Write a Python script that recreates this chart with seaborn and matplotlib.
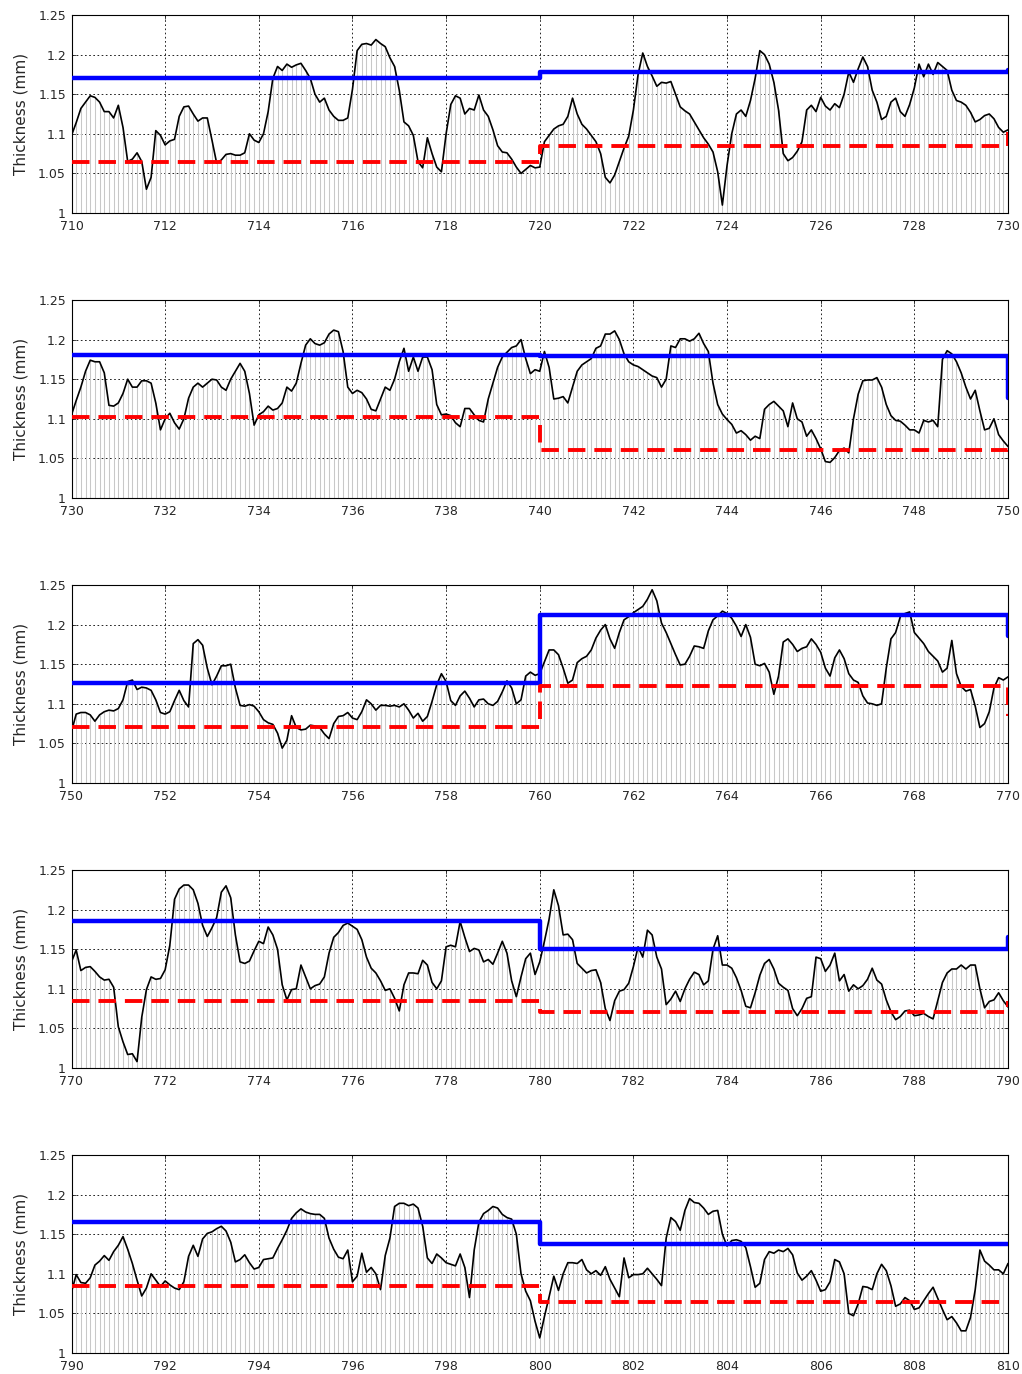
import numpy as np
import pandas as pd
import matplotlib
matplotlib.use("Agg")
import matplotlib.pyplot as plt
from matplotlib.ticker import FuncFormatter, MultipleLocator
import seaborn as sns

# ── data: thickness sampled every 0.1 along the strip ─────────
thk_710 = [1.098, 1.114, 1.132, 1.140, 1.148, 1.146, 1.140, 1.128, 1.128, 1.120,
           1.136, 1.108, 1.065, 1.068, 1.076, 1.065, 1.030, 1.045, 1.104, 1.098,
           1.086, 1.091, 1.093, 1.122, 1.134, 1.135, 1.125, 1.116, 1.120, 1.120,
           1.092, 1.063, 1.067, 1.074, 1.075, 1.073, 1.073, 1.076, 1.100, 1.092,
           1.089, 1.100, 1.128, 1.170, 1.185, 1.180, 1.188, 1.184, 1.187, 1.189,
           1.180, 1.170, 1.150, 1.140, 1.145, 1.130, 1.122, 1.117, 1.117, 1.120,
           1.156, 1.205, 1.213, 1.214, 1.212, 1.219, 1.214, 1.210, 1.196, 1.185,
           1.155, 1.115, 1.110, 1.098, 1.065, 1.057, 1.095, 1.075, 1.058, 1.052,
           1.100, 1.137, 1.148, 1.145, 1.125, 1.132, 1.130, 1.149, 1.130, 1.122,
           1.105, 1.085, 1.077, 1.076, 1.068, 1.058, 1.050, 1.055, 1.060, 1.057]
thk_720 = [1.058, 1.090, 1.098, 1.106, 1.110, 1.112, 1.122, 1.145, 1.125, 1.112,
           1.106, 1.098, 1.090, 1.075, 1.045, 1.038, 1.048, 1.065, 1.082, 1.097,
           1.130, 1.175, 1.202, 1.185, 1.173, 1.160, 1.165, 1.164, 1.166, 1.150,
           1.134, 1.129, 1.125, 1.115, 1.105, 1.095, 1.087, 1.077, 1.052, 1.010,
           1.060, 1.100, 1.125, 1.130, 1.122, 1.142, 1.170, 1.205, 1.200, 1.188,
           1.165, 1.130, 1.075, 1.066, 1.070, 1.078, 1.090, 1.130, 1.136, 1.128,
           1.146, 1.135, 1.130, 1.138, 1.133, 1.150, 1.178, 1.165, 1.182, 1.197,
           1.185, 1.155, 1.140, 1.118, 1.122, 1.140, 1.145, 1.128, 1.122, 1.137,
           1.158, 1.188, 1.172, 1.188, 1.175, 1.190, 1.185, 1.180, 1.155, 1.142,
           1.140, 1.136, 1.127, 1.115, 1.118, 1.123, 1.125, 1.119, 1.108, 1.102]
thk_730 = [1.105, 1.123, 1.140, 1.160, 1.174, 1.172, 1.172, 1.158, 1.117, 1.116,
           1.120, 1.132, 1.150, 1.140, 1.140, 1.148, 1.148, 1.145, 1.120, 1.086,
           1.100, 1.107, 1.095, 1.087, 1.100, 1.126, 1.140, 1.145, 1.140, 1.145,
           1.150, 1.149, 1.140, 1.136, 1.150, 1.160, 1.170, 1.160, 1.132, 1.092,
           1.105, 1.109, 1.116, 1.111, 1.113, 1.120, 1.140, 1.135, 1.145, 1.170,
           1.193, 1.201, 1.195, 1.193, 1.196, 1.207, 1.212, 1.210, 1.185, 1.140,
           1.132, 1.136, 1.133, 1.125, 1.112, 1.110, 1.125, 1.140, 1.136, 1.150,
           1.172, 1.189, 1.160, 1.178, 1.160, 1.178, 1.178, 1.162, 1.118, 1.105,
           1.106, 1.104, 1.095, 1.090, 1.113, 1.113, 1.105, 1.098, 1.096, 1.125,
           1.145, 1.165, 1.178, 1.184, 1.190, 1.192, 1.200, 1.176, 1.157, 1.162]
thk_740 = [1.160, 1.185, 1.165, 1.125, 1.126, 1.128, 1.120, 1.140, 1.160, 1.168,
           1.172, 1.176, 1.189, 1.192, 1.207, 1.207, 1.211, 1.200, 1.182, 1.172,
           1.168, 1.166, 1.162, 1.158, 1.154, 1.152, 1.140, 1.150, 1.192, 1.190,
           1.201, 1.201, 1.198, 1.201, 1.208, 1.195, 1.185, 1.145, 1.118, 1.106,
           1.099, 1.093, 1.082, 1.085, 1.080, 1.073, 1.078, 1.075, 1.112, 1.118,
           1.122, 1.116, 1.110, 1.090, 1.120, 1.100, 1.096, 1.078, 1.086, 1.075,
           1.062, 1.046, 1.045, 1.051, 1.060, 1.063, 1.057, 1.100, 1.131, 1.148,
           1.149, 1.149, 1.152, 1.140, 1.118, 1.104, 1.098, 1.097, 1.092, 1.086,
           1.086, 1.082, 1.098, 1.096, 1.098, 1.090, 1.175, 1.186, 1.182, 1.172,
           1.158, 1.140, 1.125, 1.136, 1.110, 1.086, 1.088, 1.100, 1.080, 1.072]
thk_750 = [1.065, 1.087, 1.089, 1.089, 1.086, 1.078, 1.086, 1.090, 1.092, 1.091,
           1.094, 1.105, 1.128, 1.130, 1.118, 1.121, 1.120, 1.117, 1.105, 1.089,
           1.087, 1.090, 1.104, 1.117, 1.104, 1.096, 1.176, 1.181, 1.174, 1.145,
           1.124, 1.135, 1.148, 1.148, 1.150, 1.120, 1.098, 1.097, 1.099, 1.097,
           1.090, 1.080, 1.076, 1.074, 1.063, 1.044, 1.054, 1.085, 1.070, 1.067,
           1.068, 1.073, 1.072, 1.070, 1.062, 1.056, 1.075, 1.084, 1.085, 1.089,
           1.082, 1.080, 1.090, 1.105, 1.100, 1.092, 1.098, 1.098, 1.097, 1.098,
           1.096, 1.100, 1.092, 1.082, 1.088, 1.078, 1.084, 1.103, 1.124, 1.138,
           1.128, 1.104, 1.098, 1.110, 1.116, 1.107, 1.096, 1.105, 1.106, 1.100,
           1.098, 1.103, 1.115, 1.129, 1.120, 1.100, 1.105, 1.135, 1.140, 1.136]
thk_760 = [1.138, 1.153, 1.168, 1.168, 1.162, 1.145, 1.126, 1.130, 1.152, 1.157,
           1.160, 1.168, 1.183, 1.193, 1.200, 1.182, 1.170, 1.190, 1.206, 1.210,
           1.215, 1.219, 1.223, 1.232, 1.244, 1.230, 1.202, 1.190, 1.176, 1.162,
           1.149, 1.150, 1.160, 1.173, 1.172, 1.170, 1.192, 1.206, 1.211, 1.217,
           1.214, 1.208, 1.198, 1.185, 1.200, 1.184, 1.150, 1.148, 1.151, 1.140,
           1.112, 1.135, 1.178, 1.182, 1.175, 1.166, 1.170, 1.172, 1.182, 1.175,
           1.165, 1.145, 1.135, 1.158, 1.168, 1.157, 1.138, 1.130, 1.127, 1.110,
           1.101, 1.100, 1.098, 1.100, 1.145, 1.182, 1.190, 1.210, 1.214, 1.216,
           1.190, 1.183, 1.176, 1.166, 1.160, 1.154, 1.140, 1.145, 1.180, 1.138,
           1.122, 1.116, 1.118, 1.097, 1.070, 1.075, 1.090, 1.120, 1.133, 1.130]
thk_770 = [1.134, 1.149, 1.123, 1.127, 1.128, 1.122, 1.115, 1.111, 1.112, 1.102,
           1.052, 1.033, 1.017, 1.018, 1.008, 1.064, 1.099, 1.115, 1.112, 1.113,
           1.124, 1.155, 1.213, 1.226, 1.231, 1.231, 1.225, 1.208, 1.180, 1.166,
           1.177, 1.190, 1.222, 1.230, 1.215, 1.168, 1.134, 1.132, 1.135, 1.148,
           1.160, 1.157, 1.178, 1.168, 1.150, 1.105, 1.086, 1.099, 1.100, 1.130,
           1.115, 1.100, 1.104, 1.106, 1.115, 1.145, 1.165, 1.171, 1.180, 1.183,
           1.179, 1.175, 1.162, 1.140, 1.126, 1.120, 1.110, 1.098, 1.100, 1.088,
           1.072, 1.105, 1.120, 1.120, 1.119, 1.136, 1.130, 1.108, 1.100, 1.110,
           1.153, 1.155, 1.153, 1.185, 1.165, 1.147, 1.151, 1.149, 1.134, 1.137,
           1.131, 1.145, 1.160, 1.145, 1.110, 1.090, 1.115, 1.138, 1.145, 1.118]
thk_780 = [1.134, 1.160, 1.188, 1.225, 1.205, 1.168, 1.169, 1.162, 1.132, 1.126,
           1.120, 1.123, 1.124, 1.108, 1.075, 1.060, 1.085, 1.097, 1.099, 1.107,
           1.128, 1.153, 1.140, 1.174, 1.168, 1.140, 1.125, 1.080, 1.087, 1.097,
           1.084, 1.100, 1.112, 1.121, 1.118, 1.105, 1.110, 1.150, 1.167, 1.130,
           1.130, 1.126, 1.114, 1.098, 1.078, 1.076, 1.095, 1.117, 1.132, 1.137,
           1.125, 1.107, 1.102, 1.098, 1.075, 1.066, 1.075, 1.088, 1.090, 1.140,
           1.138, 1.122, 1.130, 1.145, 1.110, 1.118, 1.097, 1.105, 1.100, 1.104,
           1.112, 1.126, 1.111, 1.106, 1.086, 1.071, 1.061, 1.065, 1.072, 1.073,
           1.066, 1.067, 1.069, 1.065, 1.062, 1.085, 1.108, 1.120, 1.125, 1.125,
           1.130, 1.125, 1.130, 1.130, 1.100, 1.076, 1.084, 1.086, 1.095, 1.085]
thk_790 = [1.077, 1.099, 1.089, 1.088, 1.095, 1.111, 1.116, 1.123, 1.117, 1.128,
           1.136, 1.147, 1.131, 1.113, 1.092, 1.072, 1.082, 1.100, 1.092, 1.084,
           1.091, 1.086, 1.082, 1.080, 1.090, 1.122, 1.136, 1.122, 1.144, 1.151,
           1.153, 1.157, 1.160, 1.154, 1.140, 1.115, 1.118, 1.124, 1.114, 1.106,
           1.108, 1.118, 1.119, 1.120, 1.132, 1.143, 1.155, 1.170, 1.177, 1.182,
           1.178, 1.176, 1.175, 1.175, 1.170, 1.145, 1.131, 1.121, 1.119, 1.130,
           1.090, 1.097, 1.126, 1.102, 1.108, 1.100, 1.080, 1.123, 1.145, 1.185,
           1.189, 1.189, 1.186, 1.188, 1.183, 1.160, 1.120, 1.113, 1.125, 1.120,
           1.114, 1.112, 1.110, 1.125, 1.108, 1.070, 1.130, 1.165, 1.176, 1.180,
           1.185, 1.183, 1.175, 1.171, 1.169, 1.150, 1.100, 1.078, 1.066, 1.040]
thk_800 = [1.019, 1.046, 1.071, 1.097, 1.079, 1.100, 1.114, 1.114, 1.113, 1.118,
           1.105, 1.100, 1.104, 1.098, 1.109, 1.093, 1.082, 1.071, 1.120, 1.095,
           1.099, 1.099, 1.100, 1.107, 1.100, 1.093, 1.085, 1.145, 1.171, 1.166,
           1.155, 1.180, 1.195, 1.190, 1.189, 1.183, 1.175, 1.179, 1.180, 1.150,
           1.135, 1.142, 1.143, 1.141, 1.133, 1.109, 1.083, 1.088, 1.118, 1.128,
           1.126, 1.130, 1.128, 1.132, 1.124, 1.101, 1.092, 1.097, 1.104, 1.092,
           1.078, 1.080, 1.090, 1.118, 1.115, 1.100, 1.050, 1.047, 1.062, 1.084,
           1.083, 1.080, 1.100, 1.112, 1.104, 1.085, 1.059, 1.062, 1.070, 1.066,
           1.055, 1.057, 1.066, 1.075, 1.083, 1.069, 1.055, 1.042, 1.046, 1.038,
           1.028, 1.028, 1.045, 1.080, 1.130, 1.116, 1.111, 1.105, 1.105, 1.100,
           1.113]

# ── data: control limits per 10-unit block ─────────────────────
block_start = [710, 720, 730, 740, 750, 760, 770, 780, 790, 800, 810]
upper_lim   = [1.170, 1.178, 1.181, 1.179, 1.126, 1.212, 1.186, 1.150, 1.166, 1.138, 1.138]
lower_lim   = [1.064, 1.084, 1.102, 1.061, 1.071, 1.122, 1.085, 1.071, 1.084, 1.064, 1.064]

panel_start = [710, 730, 750, 770, 790]
y_ticks     = [1.0, 1.05, 1.1, 1.15, 1.2, 1.25]

# ── assemble ──────────────────────────────────────────────────
thickness = np.array(thk_710 + thk_720 + thk_730 + thk_740 + thk_750 +
                     thk_760 + thk_770 + thk_780 + thk_790 + thk_800)
position  = np.round(710 + 0.1 * np.arange(len(thickness)), 1)
df = pd.DataFrame({"position": position, "thickness": thickness})

lim = pd.DataFrame({"start": block_start, "upper": upper_lim, "lower": lower_lim})

sns.set_style("white")
plt.rcParams["font.family"] = ["DejaVu Sans"]

W, H = 1022, 1374
fig = plt.figure(figsize=(W / 100, H / 100), dpi=100)

for i, start in enumerate(panel_start):
    top_px = 15 + 285 * i
    ax = fig.add_axes([71.5 / W, 1 - (top_px + 198) / H, 936.5 / W, 198 / H])

    sub = df[(df.position >= start - 1e-6) & (df.position <= start + 20 + 1e-6)]
    ax.vlines(sub.position, 1.0, sub.thickness, color="#c8c8c8", lw=0.75, zorder=1.8)
    sns.lineplot(data=sub, x="position", y="thickness", ax=ax, color="black",
                 lw=1.2, estimator=None, zorder=3)

    ls = lim[(lim.start >= start) & (lim.start <= start + 20)]
    ax.step(ls.start, ls.upper, where="post", color="#0000ff", lw=3.2, zorder=4)
    ax.step(ls.start, ls.lower, where="post", color="#ff0000", lw=2.8,
            ls=(0, (4.5, 2.3)), zorder=4)

    ax.set_xlim(start, start + 20)
    ax.set_ylim(1.0, 1.25)
    ax.xaxis.set_major_locator(MultipleLocator(2))
    ax.set_yticks(y_ticks)
    ax.yaxis.set_major_formatter(FuncFormatter(lambda v, p: f"{v:g}"))
    ax.grid(True, color="black", ls=(0, (2, 3)), lw=0.6)
    ax.set_xlabel("")
    ax.set_ylabel("Thickness (mm)", fontsize=11, labelpad=7)
    ax.tick_params(direction="in", length=3, width=0.6, labelsize=9,
                   bottom=True, left=True, top=True, right=True)
    ax.tick_params(axis="x", pad=5)
    ax.tick_params(axis="y", pad=4)
    for s in ax.spines.values():
        s.set_color("black"); s.set_linewidth(0.8)

fig.savefig("out.png", dpi=100, facecolor="white")
